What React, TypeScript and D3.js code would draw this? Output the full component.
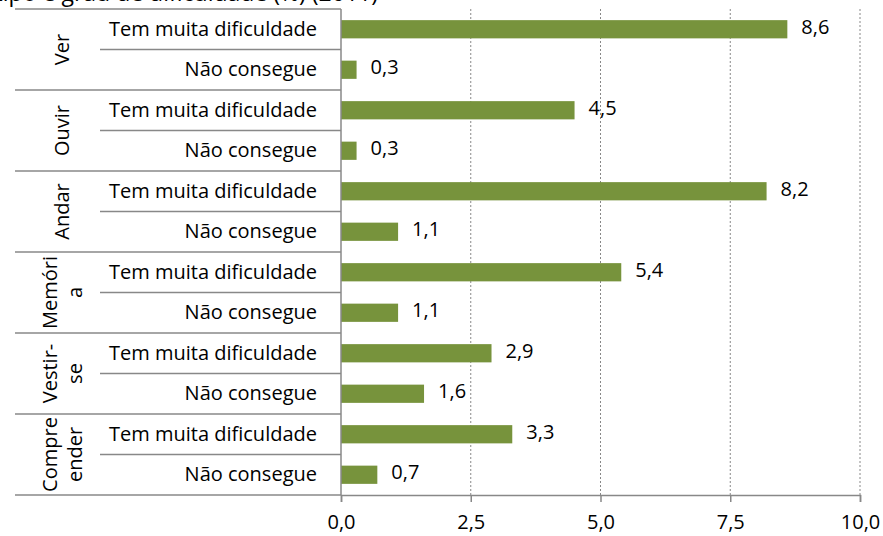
import React, { useEffect, useRef } from 'react';
import * as d3 from 'd3';

// chart data
const groupLines: string[][] = [['Ver'], ['Ouvir'], ['Andar'], ['Memóri', 'a'], ['Vestir-', 'se'], ['Compre', 'ender']];
const levels = ['Tem muita dificuldade', 'Não consegue'];
const muitaDificuldade = [8.6, 4.5, 8.2, 5.4, 2.9, 3.3];
const naoConsegue = [0.3, 0.3, 1.1, 1.1, 1.6, 0.7];
const xTicks = [0, 2.5, 5, 7.5, 10];
const titleText = 'Pessoas com deficiência por tipo e grau de dificuldade (%) (2011)';

const FONT = '"Open Sans", sans-serif';
const FS = 20;
const fmt = (v: number) => d3.format('.1f')(v).replace('.', ',');

const App = () => {
  const svgRef = useRef<SVGSVGElement>(null);

  useEffect(() => {
    const svg = d3.select(svgRef.current);
    svg.selectAll('*').remove();

    const margin = { top: 9, right: 23, bottom: 41, left: 341 };
    const width = 883 - margin.left - margin.right;
    const height = 536 - margin.top - margin.bottom;

    // flatten rows: group x level
    const rows = groupLines.flatMap((g, gi) => [
      { key: `${gi}-0`, group: gi, level: levels[0], value: muitaDificuldade[gi] },
      { key: `${gi}-1`, group: gi, level: levels[1], value: naoConsegue[gi] },
    ]);

    const x = d3.scaleLinear().domain([0, 10]).range([0, width]);
    const y = d3.scaleBand().domain(rows.map(d => d.key)).range([0, height]).paddingInner(0.55).paddingOuter(0.275);
    const step = y.step();
    const yGroup = d3.scaleBand().domain(groupLines.map((_, i) => String(i))).range([0, height]);

    // title (cut off at the top)
    svg.append('text')
      .attr('x', 378)
      .attr('y', 1)
      .attr('text-anchor', 'end')
      .attr('font-family', FONT)
      .attr('font-size', 23)
      .text(titleText);

    const g = svg.append('g').attr('transform', `translate(${margin.left},${margin.top})`);

    // dotted gridlines
    g.selectAll('.grid')
      .data(xTicks.slice(1))
      .enter().append('line')
      .attr('x1', d => x(d)).attr('x2', d => x(d))
      .attr('y1', 0).attr('y2', height)
      .attr('stroke', '#888')
      .attr('stroke-width', 1)
      .attr('stroke-dasharray', '2,2');

    // bars
    g.selectAll('.bar')
      .data(rows)
      .enter().append('rect')
      .attr('x', 0)
      .attr('y', d => y(d.key)!)
      .attr('width', d => x(d.value))
      .attr('height', y.bandwidth())
      .attr('fill', '#77933C');

    // value labels
    g.selectAll('.val')
      .data(rows)
      .enter().append('text')
      .attr('x', d => x(d.value) + 14)
      .attr('y', d => y(d.key)! + y.bandwidth() / 2 - 2)
      .attr('dy', '0.32em')
      .attr('font-family', FONT)
      .attr('font-size', FS)
      .attr('fill', '#000')
      .text(d => fmt(d.value));

    // x axis
    const xAxis = g.append('g')
      .attr('transform', `translate(0,${height})`)
      .call(d3.axisBottom(x).tickValues(xTicks).tickSize(7).tickPadding(13).tickFormat(d => fmt(+d)));
    xAxis.select('.domain').attr('stroke', '#888').attr('stroke-width', 1.5);
    xAxis.selectAll('.tick line').attr('stroke', '#888').attr('stroke-width', 1.5);
    xAxis.selectAll('text').attr('font-family', FONT).attr('font-size', FS).attr('fill', '#000');

    // vertical category axis line
    g.append('line')
      .attr('x1', 0).attr('x2', 0)
      .attr('y1', 0).attr('y2', height)
      .attr('stroke', '#888').attr('stroke-width', 1.5);

    // group separators (multi-level category axis)
    g.selectAll('.gsep')
      .data(d3.range(groupLines.length + 1))
      .enter().append('line')
      .attr('x1', 15 - margin.left).attr('x2', 0)
      .attr('y1', i => i * yGroup.step()).attr('y2', i => i * yGroup.step())
      .attr('stroke', '#888').attr('stroke-width', 1.5);

    // level separators inside groups
    g.selectAll('.lsep')
      .data(groupLines.map((_, i) => i))
      .enter().append('line')
      .attr('x1', 100 - margin.left).attr('x2', 0)
      .attr('y1', i => yGroup(String(i))! + step).attr('y2', i => yGroup(String(i))! + step)
      .attr('stroke', '#888').attr('stroke-width', 1.5);

    // level labels
    g.selectAll('.lvl')
      .data(rows)
      .enter().append('text')
      .attr('x', -24)
      .attr('y', d => y(d.key)! + y.bandwidth() / 2)
      .attr('dy', '0.32em')
      .attr('text-anchor', 'end')
      .attr('font-family', FONT)
      .attr('font-size', FS)
      .text(d => d.level);

    // group labels, rotated
    const grp = g.selectAll('.grp')
      .data(groupLines)
      .enter().append('text')
      .attr('transform', (_, i) => `translate(${62 - margin.left},${yGroup(String(i))! + yGroup.bandwidth() / 2}) rotate(-90)`)
      .attr('text-anchor', 'middle')
      .attr('font-family', FONT)
      .attr('font-size', FS);

    grp.each(function (lines) {
      const t = d3.select(this);
      const n = lines.length;
      lines.forEach((line, li) => {
        t.append('tspan')
          .attr('x', 0)
          .attr('y', (li - (n - 1) / 2) * 25 + 7)
          .text(line);
      });
    });
  }, []);

  return (
    <svg ref={svgRef} width={883} height={536} style={{ position: 'absolute', left: 0, top: 0, background: '#fff' }} />
  );
};

export default App;
